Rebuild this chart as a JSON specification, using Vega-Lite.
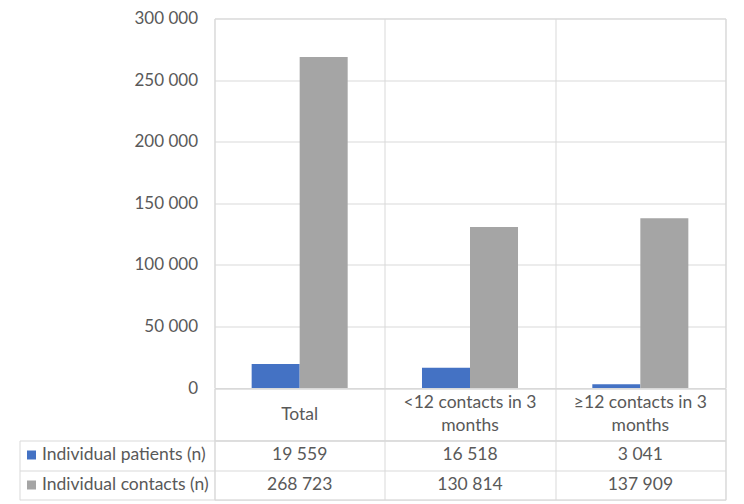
{
  "$schema": "https://vega.github.io/schema/vega-lite/v6.json",
  "background": "white",
  "padding": {"left": 18.5, "top": 8.5, "right": 5, "bottom": 5},
  "datasets": {
    "bars": [
      {"category": "Total", "series": "Individual patients (n)", "value": 19559},
      {"category": "Total", "series": "Individual contacts (n)", "value": 268723},
      {"category": "<12 contacts in 3 months", "series": "Individual patients (n)", "value": 16518},
      {"category": "<12 contacts in 3 months", "series": "Individual contacts (n)", "value": 130814},
      {"category": "≥12 contacts in 3 months", "series": "Individual patients (n)", "value": 3041},
      {"category": "≥12 contacts in 3 months", "series": "Individual contacts (n)", "value": 137909}
    ],
    "headers": [
      {"category": "Total", "label": "Total"},
      {"category": "<12 contacts in 3 months", "label": "<12 contacts in 3\nmonths"},
      {"category": "≥12 contacts in 3 months", "label": "≥12 contacts in 3\nmonths"}
    ]
  },
  "spacing": 0,
  "bounds": "flush",
  "vconcat": [
    {
      "width": 511,
      "height": 369.5,
      "data": {"name": "bars"},
      "mark": {"type": "bar"},
      "encoding": {
        "x": {
          "field": "category",
          "type": "nominal",
          "scale": {"domain": ["Total", "<12 contacts in 3 months", "≥12 contacts in 3 months"], "paddingInner": 0, "paddingOuter": 0},
          "axis": {"orient": "bottom", "labels": false, "ticks": false, "domain": false, "grid": true, "tickBand": "extent", "title": null}
        },
        "xOffset": {
          "field": "series",
          "type": "nominal",
          "scale": {"domain": ["Individual patients (n)", "Individual contacts (n)"], "paddingInner": 0, "paddingOuter": 0.774}
        },
        "y": {
          "field": "value",
          "type": "quantitative",
          "scale": {"domain": [0, 300000], "nice": false},
          "axis": {"values": [0, 50000, 100000, 150000, 200000, 250000, 300000], "format": ",.0f", "title": null, "domain": false, "ticks": false, "labelPadding": 17, "labelFontSize": 17, "grid": true}
        },
        "color": {
          "field": "series",
          "type": "nominal",
          "scale": {"domain": ["Individual patients (n)", "Individual contacts (n)"], "range": ["#4472C4", "#A5A5A5"]},
          "legend": null
        }
      }
    },
    {
      "width": 511,
      "height": 52,
      "data": {"name": "headers"},
      "encoding": {
        "x": {
          "field": "category",
          "type": "nominal",
          "scale": {"domain": ["Total", "<12 contacts in 3 months", "≥12 contacts in 3 months"], "paddingInner": 0, "paddingOuter": 0},
          "axis": {"orient": "bottom", "labels": false, "ticks": false, "domain": false, "grid": true, "tickBand": "extent", "title": null}
        },
        "text": {"field": "label", "type": "nominal"}
      },
      "layer": [
        {
          "transform": [{"filter": "indexof(datum.label, '\\n') < 0"}],
          "mark": {"type": "text", "fontSize": 17.5, "color": "#595959", "baseline": "middle"}
        },
        {
          "transform": [{"filter": "indexof(datum.label, '\\n') >= 0"}],
          "mark": {"type": "text", "fontSize": 17.5, "color": "#595959", "lineBreak": "\n", "lineHeight": 22.5, "baseline": "middle", "dy": -11.25}
        }
      ]
    },
    {
      "width": 511,
      "height": 59.2,
      "data": {"name": "bars"},
      "layer": [
        {
          "mark": {"type": "text", "fontSize": 17.5, "color": "#595959"},
          "encoding": {
            "x": {
              "field": "category",
              "type": "nominal",
              "scale": {"domain": ["Total", "<12 contacts in 3 months", "≥12 contacts in 3 months"], "paddingInner": 0, "paddingOuter": 0},
              "axis": {"orient": "bottom", "labels": false, "ticks": false, "domain": false, "grid": true, "tickBand": "extent", "title": null}
            },
            "y": {
              "field": "series",
              "type": "nominal",
              "scale": {"domain": ["Individual patients (n)", "Individual contacts (n)"], "paddingInner": 0, "paddingOuter": 0},
              "axis": {
                "orient": "left",
                "offset": 179,
                "domain": false,
                "grid": false,
                "ticks": true,
                "tickSize": 9,
                "tickWidth": 9,
                "tickColor": {"condition": {"test": "datum.value === 'Individual patients (n)'", "value": "#4472C4"}, "value": "#A5A5A5"},
                "labelAlign": "left",
                "labelPadding": -15,
                "labelLimit": 400,
                "labelFontSize": 17.5,
                "title": null
              }
            },
            "text": {"field": "value", "type": "quantitative", "format": ","}
          }
        },
        {
          "mark": {"type": "text", "opacity": 0},
          "encoding": {
            "y": {
              "field": "series",
              "type": "nominal",
              "scale": {"domain": ["Individual patients (n)", "Individual contacts (n)"], "paddingInner": 0, "paddingOuter": 0},
              "axis": {
                "orient": "left",
                "offset": 195,
                "domain": true,
                "domainColor": "#d9d9d9",
                "ticks": true,
                "tickBand": "extent",
                "tickSize": -706,
                "tickColor": "#d9d9d9",
                "labels": false,
                "grid": false,
                "title": null
              }
            },
            "text": {"value": ""}
          }
        }
      ],
      "resolve": {"axis": {"y": "independent"}}
    }
  ],
  "config": {
    "view": {"stroke": "#d9d9d9"},
    "font": "Lato",
    "axis": {"gridColor": "#d9d9d9", "gridWidth": 1, "labelFont": "Lato", "labelFontSize": 17, "labelColor": "#595959"},
    "text": {"font": "Lato"},
    "locale": {"number": {"decimal": ",", "thousands": " ", "grouping": [3], "currency": ["", ""]}}
  }
}
